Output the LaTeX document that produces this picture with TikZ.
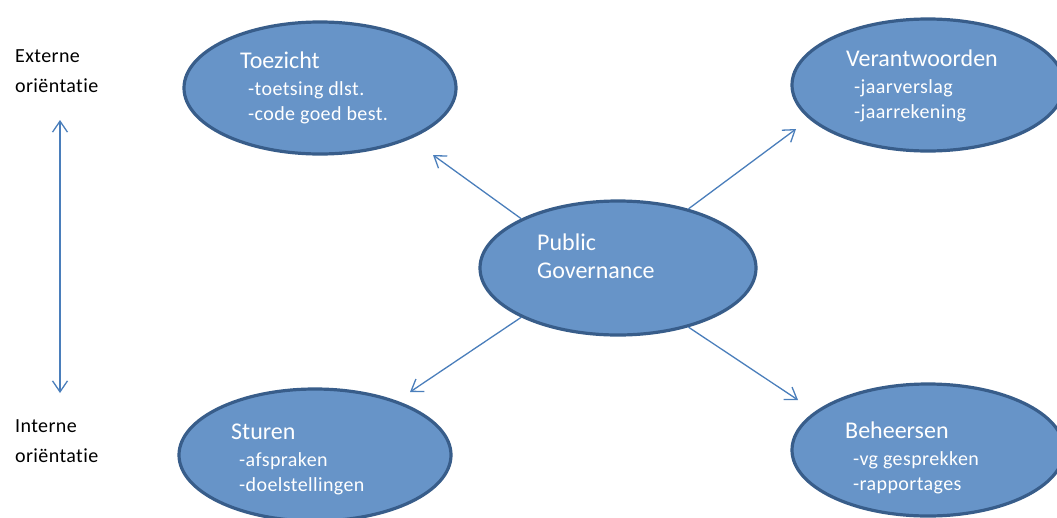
\documentclass[tikz,border=0pt]{standalone}
\usepackage{fontspec}
\setmainfont{Carlito}[Ligatures=NoCommon]
\newfontfamily\spaced{Carlito}[LetterSpace=2.0, Ligatures=NoCommon]
\usetikzlibrary{shapes.geometric,arrows.meta}

\definecolor{ovalfill}{RGB}{103,148,200}
\definecolor{ovalline}{RGB}{56,93,138}
\definecolor{arrowblue}{RGB}{74,126,187}

\begin{document}
\begin{tikzpicture}[x=1pt, y=-1pt]

	% Define styles
	\tikzstyle{oval} = [
	ellipse, minimum width=272pt, minimum height=132pt,
	draw=ovalline, line width=3.2pt, fill=ovalfill]
	\tikzstyle{ovaltext} = [
	anchor=north west, inner sep=0pt, text=white, align=left,
	font=\spaced\fontsize{20}{25}\selectfont]
	\tikzstyle{head} = [font=\rmfamily\fontsize{24}{28}\selectfont]
	\tikzstyle{side} = [
	anchor=north west, inner sep=0pt, align=left,
	font=\spaced\fontsize{20}{30}\selectfont]
	\tikzstyle{arrow} = [arrowblue, line width=1.3pt,
	-{Straight Barb[length=11pt, width=15pt]}]
	\tikzstyle{twoway} = [arrowblue, line width=1.3pt,
	{Straight Barb[length=11pt, width=15pt]}-{Straight Barb[length=11pt, width=15pt]}]

	\clip (0,0) rectangle (1057,517);

	% Nodes
	\node (pg) [oval, minimum width=276pt, minimum height=134pt] at (618,268) {};
	\node (tz) [oval] at (320,88) {};
	\node (va) [oval] at (928,85) {};
	\node (st) [oval] at (315,455) {};
	\node (bh) [oval] at (928,450) {};

	\node (pgtext) [ovaltext, head, xshift=-81pt, yshift=34pt] at (pg) {
		Public\\
		Governance
	};
	\node (tztext) [ovaltext, xshift=-80pt, yshift=36pt] at (tz) {
		{\rmfamily\fontsize{24}{28}\selectfont Toezicht}\\[2pt]
		\hspace*{8pt}-toetsing dlst.\\
		\hspace*{8pt}-code goed best.
	};
	\node (vatext) [ovaltext, xshift=-82pt, yshift=35pt] at (va) {
		{\rmfamily\fontsize{24}{28}\selectfont Verantwoorden}\\[2pt]
		\hspace*{8pt}-jaarverslag\\
		\hspace*{8pt}-jaarrekening
	};
	\node (sttext) [ovaltext, xshift=-84pt, yshift=31pt] at (st) {
		{\rmfamily\fontsize{24}{28}\selectfont Sturen}\\[2pt]
		\hspace*{8pt}-afspraken\\
		\hspace*{8pt}-doelstellingen
	};
	\node (bhtext) [ovaltext, xshift=-83pt, yshift=28pt] at (bh) {
		{\rmfamily\fontsize{24}{28}\selectfont Beheersen}\\[2pt]
		\hspace*{8pt}-vg gesprekken\\
		\hspace*{8pt}-rapportages
	};

	\node (ext) [side] at (15,49) {Externe\\oriëntatie};
	\node (int) [side] at (15,419) {Interne\\oriëntatie};

	% Arrow ends
	\coordinate (tztip) at (433,155);
	\coordinate (vatip) at (796,129);
	\coordinate (sttip) at (410,392);
	\coordinate (bhtip) at (798,400);
	\coordinate (uptip) at (60,120);
	\coordinate (downtip) at (60,393);

	% Arrows
	\draw [arrow] (pg.153) -- (tztip);
	\draw [arrow] (pg.40) -- (vatip);
	\draw [arrow] (pg.207) -- (sttip);
	\draw [arrow] (pg.320) -- (bhtip);
	\draw [twoway] (uptip) -- (downtip);

\end{tikzpicture}
\end{document}
